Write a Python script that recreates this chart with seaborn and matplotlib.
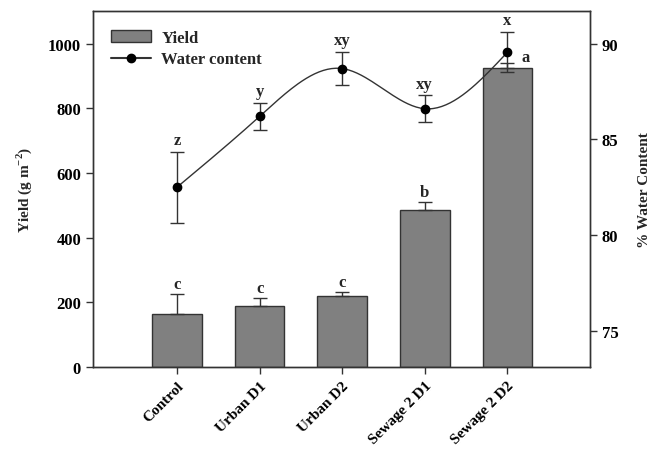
import numpy as np
import pandas as pd
import matplotlib
matplotlib.use("Agg")
import matplotlib.pyplot as plt
import seaborn as sns
from matplotlib.patches import Patch
from matplotlib.lines import Line2D

categories = ["Control", "Urban D1", "Urban D2", "Sewage 2 D1", "Sewage 2 D2"]
yield_mean = [164, 187, 218, 485, 925]
yield_err = [61, 27, 13, 25, 15]
yield_letters = ["c", "c", "c", "b", "a"]
water_mean = [82.5, 86.2, 88.7, 86.6, 89.55]
water_err = [1.85, 0.7, 0.88, 0.7, 1.05]
water_letters = ["z", "y", "xy", "xy", "x"]

sns.set_style("white")
plt.rcParams["font.family"] = ["Liberation Serif", "DejaVu Serif"]
plt.rcParams["font.weight"] = "bold"
plt.rcParams["mathtext.fontset"] = "custom"
plt.rcParams["mathtext.rm"] = "Liberation Serif:bold"
plt.rcParams["mathtext.bf"] = "Liberation Serif:bold"

FS = 12
fig = plt.figure(figsize=(6.54, 4.52), dpi=100)
ax = fig.add_axes([0.142, 0.186, 0.760, 0.787])
df = pd.DataFrame({"cat": categories, "y": yield_mean})
sns.barplot(data=df, x="cat", y="y", ax=ax, color="#808080", saturation=1,
            width=0.6, edgecolor="#333333", linewidth=1.0)
x = np.arange(len(categories))
ax.errorbar(x, yield_mean, yerr=[np.zeros(len(x)), yield_err], fmt="none",
            ecolor="#333333", elinewidth=1.0, capsize=5, capthick=1.0)
for xi, m, e, t in zip(x, yield_mean, yield_err, yield_letters):
    if t == "a":
        ax.text(xi + 0.22, m + 8, t, ha="center", va="bottom", fontsize=FS, fontweight="bold")
    else:
        ax.text(xi, m + e + 6, t, ha="center", va="bottom", fontsize=FS, fontweight="bold")
ax.set_xlim(-1.02, 5.0)
ax.set_ylim(0, 1100)
ax.set_yticks([0, 200, 400, 600, 800, 1000])
ax.set_xlabel("")
ax.set_ylabel("Yield (g m$^{-2}$)", fontsize=11, fontweight="bold", labelpad=10)
ax.set_xticks(x)
ax.set_xticklabels(categories, rotation=45, ha="right", rotation_mode="anchor",
                   fontsize=11, fontweight="bold")
for lab in ax.get_yticklabels():
    lab.set_fontweight("bold")
ax.tick_params(axis="y", direction="out", length=5, width=1, labelsize=FS,
               colors="#333333", labelcolor="black", left=True)
ax.tick_params(axis="x", direction="out", length=5, width=1, labelsize=11,
               colors="#333333", labelcolor="black", bottom=True)
for s in ax.spines.values():
    s.set_color("#333333")
    s.set_linewidth(1.0)

ax2 = ax.twinx()
# natural cubic spline for smooth connecting curve
xs = x.astype(float)
ys = np.array(water_mean)
n = len(xs)
h = np.diff(xs)
A = np.zeros((n, n)); b = np.zeros(n)
A[0, 0] = 1; A[-1, -1] = 1
for i in range(1, n - 1):
    A[i, i - 1] = h[i - 1]; A[i, i] = 2 * (h[i - 1] + h[i]); A[i, i + 1] = h[i]
    b[i] = 3 * ((ys[i + 1] - ys[i]) / h[i] - (ys[i] - ys[i - 1]) / h[i - 1])
c = np.linalg.solve(A, b)
xf, yf = [], []
for i in range(n - 1):
    bi = (ys[i + 1] - ys[i]) / h[i] - h[i] * (2 * c[i] + c[i + 1]) / 3
    di = (c[i + 1] - c[i]) / (3 * h[i])
    t = np.linspace(0, h[i], 40)
    xf.extend(xs[i] + t)
    yf.extend(ys[i] + bi * t + c[i] * t ** 2 + di * t ** 3)
sns.lineplot(x=xf, y=yf, ax=ax2, color="#333333", linewidth=1.0, sort=False)
ax2.errorbar(x, water_mean, yerr=water_err, fmt="o", color="black", ms=6,
             ecolor="#333333", elinewidth=1.0, capsize=5, capthick=1.0)
for xi, m, e, t in zip(x, water_mean, water_err, water_letters):
    ax2.text(xi, m + e + 0.2, t, ha="center", va="bottom", fontsize=FS, fontweight="bold")
ax2.set_ylim(73.1, 91.7)
ax2.set_yticks([75, 80, 85, 90])
ax2.set_ylabel("% Water Content", fontsize=11, fontweight="bold", labelpad=14)
for lab in ax2.get_yticklabels():
    lab.set_fontweight("bold")
ax2.tick_params(axis="y", direction="out", length=5, width=1, labelsize=FS,
                colors="#333333", labelcolor="black", right=True)
for s in ax2.spines.values():
    s.set_color("#333333")
    s.set_linewidth(1.0)
ax.set_xlim(-1.02, 5.0)

handles = [Patch(facecolor="#808080", edgecolor="#333333", label="Yield"),
           Line2D([0], [0], color="#333333", marker="o", markerfacecolor="black",
                  markeredgecolor="black", ms=6, label="Water content")]
leg = ax2.legend(handles=handles, loc="upper left", frameon=False,
                 prop={"weight": "bold", "size": FS}, handlelength=2.4,
                 borderaxespad=0.7, labelspacing=0.35, handletextpad=0.6)

fig.savefig("out.png", dpi=100)
